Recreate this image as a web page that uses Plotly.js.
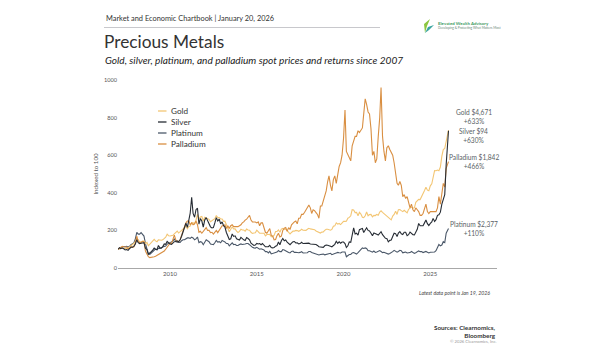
<!DOCTYPE html>
<html>
<head>
<meta charset="utf-8">
<script src="https://cdn.plot.ly/plotly-3.0.1.min.js"></script>
<style>
html,body{margin:0;padding:0;background:#fff;}
#chart{width:600px;height:350px;}
</style>
</head>
<body>
<div id="chart"></div>
<script>
// ---------- DATA (monthly, indexed to 100 at Jan 2007) ----------
const metals = ["Gold", "Silver", "Platinum", "Palladium"];
const lastPrices = ["$4,671", "$94", "$2,377", "$1,842"];
const returnsSince2007 = ["+633%", "+630%", "+110%", "+466%"];
const xTickVals = ["2010-01-01", "2015-01-01", "2020-01-01", "2025-01-01"];
const xTickLabels = ["2010", "2015", "2020", "2025"];
const yTickVals = [0, 200, 400, 600, 800, 1000];
const latestDate = "2026-01-19";

const gold = [
100,104,103,106,104,102,104,105,113,122,125,130,
142,152,150,138,140,144,144,130,136,118,126,136,
142,152,144,140,150,148,148,150,157,164,180,172,
170,172,174,182,192,196,186,193,204,210,214,222,
209,221,223,241,240,235,254,285,260,271,274,250,
270,267,261,259,246,253,255,262,279,268,268,261,
261,248,249,232,218,193,206,218,208,208,196,189,
195,206,202,202,196,207,202,201,190,184,186,187,
201,190,185,185,187,185,171,178,178,179,167,167,
175,194,194,203,190,207,211,205,207,199,185,181,
189,196,196,200,199,195,199,206,201,200,200,206,
211,208,208,206,204,197,192,189,186,191,192,200,
206,206,203,201,205,222,224,240,233,237,231,237,
248,248,249,265,269,278,310,309,295,296,278,296,
287,270,268,278,298,278,284,285,272,280,279,285,
281,298,304,296,289,285,277,268,260,256,276,285,
302,285,310,311,305,300,307,302,293,312,320,324,
319,320,349,360,365,364,383,392,412,430,414,411,
437,448,489,518,517,521,517,537,595,630,636,677,
733];

const silver = [
100,108,103,106,102,96,98,94,103,110,111,115,
128,150,135,130,132,135,135,105,98,73,78,87,
95,106,100,97,120,107,106,114,128,126,141,131,
127,125,134,140,141,144,139,150,169,190,217,238,
216,258,292,376,290,270,310,318,233,263,250,218,
255,268,252,241,219,213,215,240,268,250,260,235,
245,225,218,189,172,152,155,181,168,171,155,150,
149,163,154,150,146,162,157,150,132,124,120,122,
131,128,130,124,130,121,113,113,113,120,109,107,
109,116,119,138,124,145,157,145,149,137,128,124,
132,140,141,133,134,128,130,137,130,130,131,131,
132,128,127,126,127,125,120,113,112,113,110,118,
122,121,117,116,113,118,126,142,131,139,132,138,
138,130,109,118,139,137,186,214,181,185,175,204,
208,210,189,200,214,200,197,185,172,186,180,179,
175,188,193,177,168,158,157,139,147,149,168,185,
183,167,186,194,182,178,190,190,172,177,191,185,
177,176,193,206,237,225,225,225,240,255,236,226,
237,245,264,247,257,280,283,297,340,370,390,550,
730];

const platinum = [
100,104,109,114,114,113,115,112,115,124,128,133,
155,190,180,180,188,180,170,130,100,75,73,80,
87,95,100,98,105,104,106,112,115,117,127,130,
137,136,143,155,140,137,136,136,145,150,150,155,
160,160,157,164,160,150,155,165,135,140,137,124,
140,150,145,140,128,128,124,134,147,138,140,134,
146,142,139,130,130,118,125,134,124,126,120,120,
125,128,125,125,128,130,130,124,115,110,107,106,
110,105,100,102,98,96,87,88,80,88,75,77,
77,82,85,93,87,87,98,96,91,83,82,80,
88,90,83,84,82,81,83,87,80,81,82,81,
88,88,83,80,80,75,73,69,72,74,74,70,
72,75,74,78,71,72,77,80,83,81,80,85,
85,85,60,68,72,72,80,82,78,74,82,90,
96,107,104,107,104,92,92,88,84,90,83,85,
90,93,88,82,84,81,77,74,77,80,87,94,
88,84,88,94,92,81,83,85,80,80,82,88,
81,78,81,84,91,87,87,82,86,88,84,80,
84,85,87,85,92,112,125,118,122,140,135,185,
210];

const palladium = [
100,105,108,115,113,111,112,103,104,113,110,113,
130,170,140,134,135,142,140,90,70,60,55,58,
60,60,62,66,72,75,80,85,90,100,112,120,
132,130,147,175,150,140,142,150,175,200,215,240,
250,250,230,240,230,235,250,230,190,195,185,195,
210,215,200,200,188,190,180,188,200,188,200,215,
225,225,230,210,225,210,225,230,220,220,220,220,
225,230,240,245,255,260,270,280,255,245,245,245,
240,245,225,240,240,210,190,185,200,210,175,170,
150,152,172,185,165,170,200,212,215,195,215,205,
230,240,245,250,235,265,265,285,285,295,310,325,
335,320,290,310,305,295,285,265,330,330,360,385,
410,460,490,440,410,470,490,450,500,540,560,600,
690,840,620,600,590,570,650,680,700,700,730,720,
735,745,820,900,870,830,820,740,600,620,560,580,
700,800,960,700,620,570,640,650,630,610,600,560,
510,450,440,460,440,380,390,370,380,350,320,340,
310,300,320,310,300,280,280,290,310,340,300,290,
300,300,300,300,300,320,380,340,390,450,430,530,
566];

// monthly dates Jan 2007 .. Dec 2025, plus latest data point
const dates = [];
for (let y = 2007; y <= 2025; y++) {
  for (let m = 1; m <= 12; m++) dates.push(y + "-" + String(m).padStart(2, "0") + "-01");
}
dates.push(latestDate);

// ---------- STYLE ----------
const seriesValues = {Gold: gold, Silver: silver, Platinum: platinum, Palladium: palladium};
const colors = {Gold: "#f3c674", Silver: "#262c34", Platinum: "#4b5869", Palladium: "#d98f42"};
const drawOrder = ["Platinum", "Gold", "Palladium", "Silver"];
const FONT = "Lato, 'Open Sans', sans-serif";

// plot area in pixels
const L = 118, R = 497, T = 80, B = 268;
const px = x => (x - L) / (R - L);
const py = y => (B - y) / (B - T);

const traces = drawOrder.map(name => ({
  type: "scatter", mode: "lines", name: name,
  x: dates, y: seriesValues[name],
  line: {color: colors[name], width: 1.1},
  hoverinfo: "skip", showlegend: false
}));

const annotations = [];
const shapes = [];
function txt(x, y, text, size, opts) {
  annotations.push(Object.assign({
    xref: "paper", yref: "paper", x: px(x), y: py(y), text: text,
    showarrow: false, xanchor: "left", yanchor: "middle",
    font: {family: FONT, size: size, color: "#333"}
  }, opts || {}));
}

// header
txt(104, 19, "Market and Economic Chartbook | January 20, 2026", 7.4, {font: {family: FONT, size: 7.4, color: "#333"}});
shapes.push({type: "line", xref: "paper", yref: "paper", x0: px(104), x1: px(380), y0: py(27.5), y1: py(27.5), line: {color: "#c8c8cc", width: 1}});
txt(102, 41, "Precious Metals", 17.3, {font: {family: FONT, size: 17.3, color: "#333"}});
txt(103, 60, "<i>Gold, silver, platinum, and palladium spot prices and returns since 2007</i>", 10.1, {font: {family: FONT, size: 10.1, color: "#222"}});

// logo
shapes.push({type: "path", xref: "paper", yref: "paper", fillcolor: "#8cc63f", line: {width: 0},
  path: `M ${px(425)} ${py(33)} L ${px(424)} ${py(24)} L ${px(430)} ${py(19)} L ${px(427)} ${py(26)} Z`});
shapes.push({type: "path", xref: "paper", yref: "paper", fillcolor: "#3aa5a0", line: {width: 0},
  path: `M ${px(425)} ${py(33)} L ${px(428)} ${py(27)} L ${px(434)} ${py(25)} L ${px(429)} ${py(30)} Z`});
txt(436, 23.5, "<b>Elevated Wealth Advisory</b>", 4.4, {font: {family: FONT, size: 4.4, color: "#3d9a5f"}});
txt(436, 28, "Developing &amp; Protecting What Matters Most", 3.2, {font: {family: FONT, size: 3.2, color: "#6a8a78"}});

// custom legend
const legendY = {Gold: 111, Silver: 122, Platinum: 133, Palladium: 144};
metals.forEach(name => {
  shapes.push({type: "line", xref: "paper", yref: "paper", x0: px(158), x1: px(166.5),
    y0: py(legendY[name]), y1: py(legendY[name]), line: {color: colors[name], width: 1.3}});
  txt(168.5, legendY[name], name, 8.2, {font: {family: FONT, size: 8.2, color: "#333"}});
});

// end labels
const endLabelY = {Gold: 116, Silver: 135, Palladium: 161.5, Platinum: 228.5};
metals.forEach((name, i) => {
  txt(473.5, endLabelY[name], name + " " + lastPrices[i] + "<br>" + returnsSince2007[i], 6.6,
    {xanchor: "center", align: "center", font: {family: FONT, size: 6.6, color: "#5a5f66"}});
});

// footer
txt(492, 293, "<i>Latest data point is Jan 19, 2026</i>", 5.2, {xanchor: "right", font: {family: FONT, size: 5.2, color: "#444"}});
txt(497.5, 331, "<b>Sources: Clearnomics,<br>Bloomberg</b>", 6.3, {xanchor: "right", align: "right", font: {family: FONT, size: 6.3, color: "#333"}});
txt(497.5, 341.5, "© 2026 Clearnomics, Inc.", 4.2, {xanchor: "right", font: {family: FONT, size: 4.2, color: "#999"}});

const layout = {
  width: 600, height: 350,
  margin: {l: L, r: 600 - R, t: T, b: 350 - B, pad: 0},
  paper_bgcolor: "#fff", plot_bgcolor: "#fff",
  showlegend: false,
  xaxis: {
    type: "date", range: ["2007-01-01", "2028-11-05"],
    tickvals: xTickVals, ticktext: xTickLabels,
    showgrid: false, zeroline: false, showline: true, linecolor: "#a8a8a8", linewidth: 1,
    ticks: "", ticklabelstandoff: 0,
    tickfont: {family: FONT, size: 6, color: "#555"}, fixedrange: true
  },
  yaxis: {
    range: [0, 1000], tickvals: yTickVals,
    showgrid: false, zeroline: false, showline: false,
    ticks: "", ticklabelstandoff: 0,
    tickfont: {family: FONT, size: 5.6, color: "#555"},
    title: {text: "Indexed to 100", font: {family: FONT, size: 6.2, color: "#555"}, standoff: 4},
    fixedrange: true
  },
  annotations: annotations,
  shapes: shapes
};

Plotly.newPlot("chart", traces, layout, {displayModeBar: false, staticPlot: true});
</script>
</body>
</html>
